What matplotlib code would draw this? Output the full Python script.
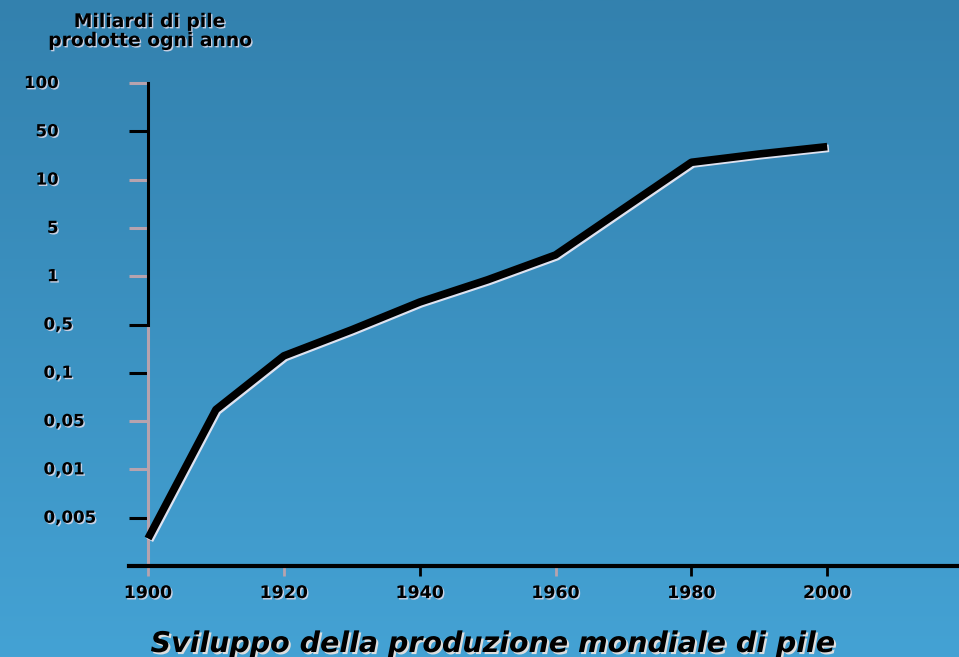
import matplotlib
matplotlib.use("Agg")
import matplotlib.pyplot as plt
import matplotlib.patheffects as pe
import numpy as np

# dati (scala dell'asse y non uniforme)
anni = [1900, 1910, 1920, 1930, 1940, 1950, 1960, 1970, 1980, 1990, 2000]
miliardi = [0.0025, 0.059, 0.176, 0.42, 0.69, 0.95, 2.03, 6.6, 17.8, 23.5, 30.0]

y_ticks = [0.001, 0.005, 0.01, 0.05, 0.1, 0.5, 1, 5, 10, 50, 100]
y_labels = ["", "0,005", "0,01", "0,05", "0,1", "0,5", "1", "5", "10", "50", "100"]
x_ticks = [1900, 1920, 1940, 1960, 1980, 2000]

titolo = "Sviluppo della produzione mondiale di pile"
unita = "Miliardi di pile\nprodotte ogni anno"

GRIGIO = "#b7a3ae"

log_ticks = np.log10(y_ticks)
idx = np.arange(len(y_ticks), dtype=float)


def forward(v):
    v = np.clip(np.asarray(v, dtype=float), 1e-6, None)
    return np.interp(np.log10(v), log_ticks, idx, left=-1, right=len(idx))


def inverse(i):
    return 10 ** np.interp(i, idx, log_ticks)


fig = plt.figure(figsize=(9.59, 6.57), dpi=100)

# sfondo sfumato
bg = fig.add_axes([0, 0, 1, 1], zorder=-1)
grad = np.linspace(0, 1, 256).reshape(-1, 1)
top = np.array([0x33, 0x81, 0xae]) / 255
bot = np.array([0x44, 0xa2, 0xd4]) / 255
img = top + (bot - top) * grad[:, :, None]
bg.imshow(img, aspect="auto", extent=[0, 1, 0, 1])
bg.axis("off")

ax = fig.add_axes([129 / 959, 91 / 657, 830 / 959, 483 / 657])
ax.patch.set_alpha(0)
ax.set_yscale("function", functions=(forward, inverse))
ax.set_ylim(0.001, 100)
ax.set_xlim(1897.2, 2019.4)

ax.plot(anni, miliardi, color="black", lw=5.5, solid_capstyle="butt",
        solid_joinstyle="round", zorder=5,
        path_effects=[pe.SimpleLineShadow(offset=(1.2, -1.2), shadow_color="#f0ecf6", alpha=0.9),
                      pe.Normal()])

for s in ["top", "right"]:
    ax.spines[s].set_visible(False)
ax.spines["left"].set_position(("data", 1900))
ax.spines["left"].set_linewidth(2.2)
ax.spines["left"].set_bounds(0.5, 100)
ax.vlines(1900, y_ticks[0], 0.5, color=GRIGIO, lw=2.2, zorder=2)
ax.spines["bottom"].set_linewidth(3)

# segni neri = major, segni grigi = minor
neri_y = [0.005, 0.1, 0.5, 50]
grigi_y = [0.01, 0.05, 1, 5, 10, 100]
ax.set_yticks(neri_y)
ax.set_yticks(grigi_y, minor=True)
ax.set_yticklabels([])
ax.set_yticklabels([], minor=True)
ax.tick_params(axis="y", which="both", length=14, width=2.2, direction="out")
ax.tick_params(axis="y", which="minor", color=GRIGIO)

neri_x = [1940, 1980, 2000]
grigi_x = [1900, 1920, 1960]
ax.set_xticks(neri_x)
ax.set_xticks(grigi_x, minor=True)
ax.set_xticklabels([str(x) for x in neri_x])
ax.set_xticklabels([str(x) for x in grigi_x], minor=True)
ax.tick_params(axis="x", which="both", length=7, width=2, pad=6,
               labelsize=12.5)
ax.tick_params(axis="x", which="minor", color=GRIGIO)

ombra = [pe.withSimplePatchShadow(offset=(1, -1), shadow_rgbFace="#d8d8e8", alpha=0.9)]
for lab in ax.get_xticklabels() + ax.get_xticklabels(minor=True):
    lab.set_fontweight("bold")
    lab.set_path_effects(ombra)

# etichette dell'asse y
ytr = ax.get_yaxis_transform()
for v, lab in zip(y_ticks, y_labels):
    if not lab:
        continue
    if "," in lab:
        ax.text(-0.103, v, lab, transform=ytr, ha="left", va="center",
                fontsize=12, fontweight="bold", path_effects=ombra)
    else:
        ax.text(-0.085, v, lab, transform=ytr, ha="right", va="center",
                fontsize=12, fontweight="bold", path_effects=ombra)

fig.text(150 / 959, 1 - 31 / 657, unita, ha="center", va="center",
         fontsize=13.5, fontweight="bold", linespacing=1.0, path_effects=ombra)

fig.text(493 / 959, 1 - 644 / 657, titolo, ha="center", va="center",
         fontsize=20.5, fontweight="bold", style="italic", color="black",
         path_effects=[pe.withSimplePatchShadow(offset=(1.5, -1.5),
                                                shadow_rgbFace="#dddddd", alpha=1)])

fig.savefig("out.png", dpi=100)
